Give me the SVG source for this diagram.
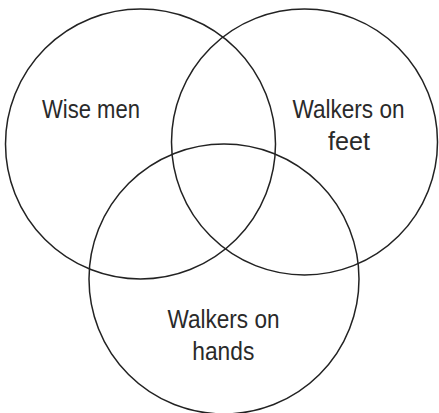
<svg xmlns="http://www.w3.org/2000/svg" width="439" height="413" viewBox="0 0 439 413">
<style>
.c{fill:none;stroke:#222;stroke-width:1.5}
.t{font-family:"Liberation Sans",Arial,sans-serif;font-size:26px;fill:#2a2a2a;text-anchor:middle}
</style>
<rect width="439" height="413" fill="#fff"/>
<g id="wise-men">
<circle class="c" cx="140.5" cy="144" r="135"/>
<text class="t" x="91" y="118" textLength="98" lengthAdjust="spacingAndGlyphs">Wise men</text>
</g>
<g id="walkers-on-feet">
<circle class="c" cx="304.5" cy="142" r="133"/>
<text class="t" x="348.5" y="118" textLength="112" lengthAdjust="spacingAndGlyphs">Walkers on</text>
<text class="t" x="349" y="150" textLength="42" lengthAdjust="spacingAndGlyphs">feet</text>
</g>
<g id="walkers-on-hands">
<circle class="c" cx="224" cy="279" r="135"/>
<text class="t" x="223.5" y="328" textLength="112" lengthAdjust="spacingAndGlyphs">Walkers on</text>
<text class="t" x="223.3" y="360" textLength="62" lengthAdjust="spacingAndGlyphs">hands</text>
</g>
<g id="connectors"/>
</svg>
